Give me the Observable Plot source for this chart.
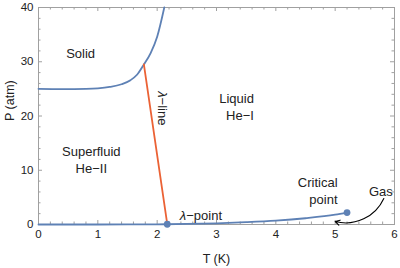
<!DOCTYPE html>
<html>
<head>
<meta charset="utf-8">
<script src="https://cdn.jsdelivr.net/npm/d3@7"></script>
<script src="https://cdn.jsdelivr.net/npm/@observablehq/plot@0.6"></script>
<style>
  html, body { margin: 0; padding: 0; background: #fff; }
  #chart { width: 400px; height: 268px; }
</style>
</head>
<body>
<div id="chart"></div>
<script>
// ---- data ----
const solidT = [0, 0.4, 0.8, 1.0, 1.2, 1.4, 1.55, 1.66, 1.776, 1.89, 2.0, 2.12];
const solidP = [25.0, 24.95, 25.0, 25.1, 25.35, 25.85, 26.6, 27.6, 29.5, 31.6, 34.6, 40];

const lambdaT = [1.776, 2.17];
const lambdaP = [29.5, 0.05];

const vaporT = [0, 1.0, 1.5, 2.0, 2.5, 3.0, 3.5, 4.0, 4.5, 5.0, 5.2];
const vaporP = [0, 0.0, 0.005, 0.03, 0.1, 0.22, 0.42, 0.7, 1.15, 1.8, 2.2];

const pointT = [2.17, 5.2];
const pointP = [0.05, 2.2];

const labelText = ["Solid", "Superfluid\nHe\u2212II"];
const labelT = [0.71, 0.89];
const labelP = [31.7, 12.0];

const rightLabelText = ["Liquid\nHe\u2212I", "Critical\npoint"];
const rightLabelT = [3.63, 5.04];
const rightLabelP = [21.9, 6.27];

const gasText = "Gas";
const gasT = 5.77, gasP = 6.1;
const gasArrow = {x1: 5.82, y1: 4.8, x2: 5.0, y2: 0.55};

const lambdaPointAt = {T: 2.49, P: 1.66};
const lambdaLineAt = {T: 2.09, P: 23.4};

const xMajor = [0, 1, 2, 3, 4, 5, 6];
const yMajor = [0, 10, 20, 30, 40];
const xMinor = d3.range(0, 6.001, 0.2).filter(v => Math.abs(v - Math.round(v)) > 1e-6);
const yMinor = d3.range(0, 40.001, 2).filter(v => v % 10 !== 0);

// ---- build ----
const solid = solidT.map((t, i) => ({T: t, P: solidP[i]}));
const lambda = lambdaT.map((t, i) => ({T: t, P: lambdaP[i]}));
const vapor = vaporT.map((t, i) => ({T: t, P: vaporP[i]}));
const points = pointT.map((t, i) => ({T: t, P: pointP[i]}));
const labels = labelText.map((s, i) => ({s, T: labelT[i], P: labelP[i]}));
const rlabels = rightLabelText.map((s, i) => ({s, T: rightLabelT[i], P: rightLabelP[i]}));

const W = 400, H = 268, mL = 38, mR = 6, mT = 7, mB = 44;
const fw = W - mL - mR, fh = H - mT - mB;
const blue = "#5E81B5", orange = "#EB6235", gray = "#a0a0a0";
const font = "'Liberation Sans', Arial, Helvetica, sans-serif";

const chart = Plot.plot({
  width: W, height: H,
  marginLeft: mL, marginRight: mR, marginTop: mT, marginBottom: mB,
  style: {fontFamily: font, color: "#222", background: "#fff"},
  x: {domain: [0, 6], label: null},
  y: {domain: [0, 40], label: null},
  marks: [
    Plot.frame({stroke: gray}),
    // ticks (inward)
    Plot.tickX(xMajor, {x: d => d, stroke: gray, insetTop: fh - 4}),
    Plot.tickX(xMajor, {x: d => d, stroke: gray, insetBottom: fh - 4}),
    Plot.tickX(xMinor, {x: d => d, stroke: gray, insetTop: fh - 2.5}),
    Plot.tickX(xMinor, {x: d => d, stroke: gray, insetBottom: fh - 2.5}),
    Plot.tickY(yMajor, {y: d => d, stroke: gray, insetRight: fw - 4}),
    Plot.tickY(yMajor, {y: d => d, stroke: gray, insetLeft: fw - 4}),
    Plot.tickY(yMinor, {y: d => d, stroke: gray, insetRight: fw - 2.5}),
    Plot.tickY(yMinor, {y: d => d, stroke: gray, insetLeft: fw - 2.5}),
    Plot.axisX(xMajor, {tickSize: 0, tickPadding: 5, fontSize: 11.5, label: null}),
    Plot.axisY(yMajor, {tickSize: 0, tickPadding: 5, fontSize: 11.5, label: null}),
    Plot.text(["T (K)"], {frameAnchor: "bottom", dy: 34, lineAnchor: "middle", fontSize: 12.5}),
    Plot.text(["P (atm)"], {frameAnchor: "left", dx: -29, dy: 5, rotate: -90, lineAnchor: "middle", fontSize: 12.5}),
    // curves
    Plot.line(solid, {x: "T", y: "P", stroke: blue, strokeWidth: 1.8, curve: "monotone-x"}),
    Plot.line(vapor, {x: "T", y: "P", stroke: blue, strokeWidth: 1.8, curve: "monotone-x"}),
    Plot.line(lambda, {x: "T", y: "P", stroke: orange, strokeWidth: 1.8}),
    Plot.dot(points, {x: "T", y: "P", r: 3.4, fill: blue}),
    // labels
    Plot.text(labels, {x: "T", y: "P", text: "s", fontSize: 13, lineHeight: 1.3, lineAnchor: "middle", fill: "#222"}),
    Plot.text(rlabels, {x: "T", y: "P", text: "s", fontSize: 13, lineHeight: 1.3, lineAnchor: "middle", textAnchor: "end", fill: "#222"}),
    Plot.text([gasText], {x: () => gasT, y: () => gasP, fontSize: 13, lineAnchor: "middle", fill: "#222"}),
    Plot.text(["\u03bb"], {x: () => lambdaPointAt.T, y: () => lambdaPointAt.P, fontSize: 13, fontStyle: "italic", textAnchor: "end", lineAnchor: "middle", fill: "#222"}),
    Plot.text(["\u2212point"], {x: () => lambdaPointAt.T, y: () => lambdaPointAt.P, fontSize: 13, textAnchor: "start", lineAnchor: "middle", fill: "#222"}),
    Plot.text(["\u03bb"], {x: () => lambdaLineAt.T, y: () => lambdaLineAt.P, rotate: 90, fontSize: 13, fontStyle: "italic", textAnchor: "end", lineAnchor: "middle", fill: "#222"}),
    Plot.text(["\u2212line"], {x: () => lambdaLineAt.T, y: () => lambdaLineAt.P, rotate: 90, fontSize: 13, textAnchor: "start", lineAnchor: "middle", fill: "#222"}),
    Plot.arrow([gasArrow], {x1: "x1", y1: "y1", x2: "x2", y2: "y2", bend: 40, stroke: "#000", strokeWidth: 1.1, headLength: 7})
  ]
});
document.getElementById("chart").appendChild(chart);
</script>
</body>
</html>
